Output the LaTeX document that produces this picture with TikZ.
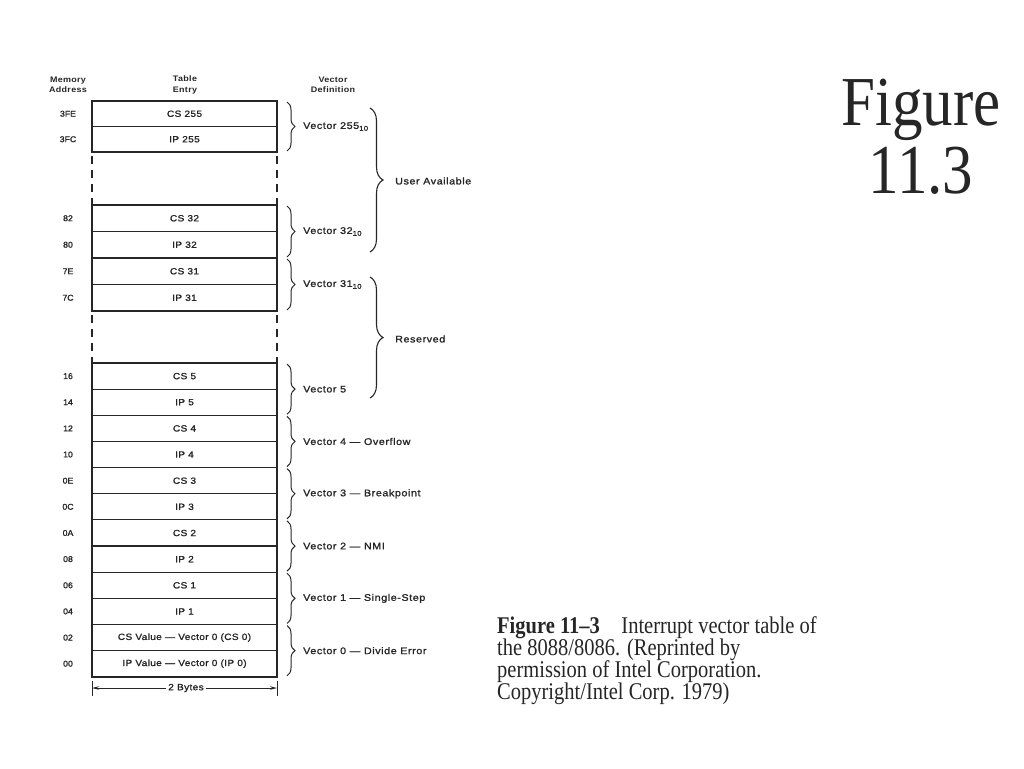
\documentclass[tikz,border=0pt]{standalone}
\usepackage{fontspec}
\setmainfont{Liberation Serif}
\newfontfamily\df[FakeStretch=1.12,LetterSpace=4,FakeBold=1.3]{Liberation Sans}
\newfontfamily\vf[FakeStretch=1.12,LetterSpace=6,FakeBold=1.3]{Liberation Sans}
\newfontfamily\af[FakeStretch=1.04,FakeBold=1.3]{Liberation Sans}
\newfontfamily\hf[FakeStretch=1.12,LetterSpace=4]{Liberation Sans}
\usetikzlibrary{decorations.pathreplacing,arrows.meta}
\definecolor{ink}{HTML}{262626}
\newcommand{\tsub}[1]{\raisebox{-0.35ex}{\fontsize{6.8}{7}\selectfont #1}}
\begin{document}
\begin{tikzpicture}[x=1pt,y=-1pt,
  every node/.style={text=ink},
  cellbox/.style={draw=ink,line width=1.1pt,minimum width=185pt,inner sep=0pt,outer sep=0pt,font=\df\fontsize{9}{10}\selectfont},
  addrtxt/.style={font=\af\fontsize{8.4}{10}\selectfont},
  vlabtxt/.style={anchor=west,font=\vf\fontsize{9.6}{10}\selectfont,inner sep=0pt},
  sbrace/.style={draw=ink,line width=1pt,decorate,decoration={brace,amplitude=8pt}},
  lbrace/.style={draw=ink,line width=1.1pt,decorate,decoration={brace,amplitude=13pt}},
  hdrtxt/.style={align=center,font=\hf\bfseries\fontsize{8}{10.5}\selectfont},
  outerframe/.style={draw=ink,line width=1.6pt},
  gapline/.style={draw=ink,line width=1.4pt,dash pattern=on 8pt off 6pt,dash phase=10pt},
  captxt/.style={anchor=base west,inner sep=0pt,font=\fontsize{20.5}{22}\selectfont},
  ttltxt/.style={anchor=base,inner sep=0pt,font=\fontsize{61}{61}\selectfont}
]
\useasboundingbox[fill=white] (0,0) rectangle (1024,768);

% headers
\node[hdrtxt] (hma) at (68,85) {Memory\\Address};
\node[hdrtxt] (hte) at (185,85) {Table\\Entry};
\node[hdrtxt] (hvd) at (333,85) {Vector\\Definition};

% section A
\node[cellbox,minimum height=25.5pt] (cs255) at (184.5,113.75) {CS 255};
\node[cellbox,minimum height=25.5pt] (ip255) at (184.5,139.25) {IP 255};
% section B
\node[cellbox,minimum height=26.5pt] (cs32) at (184.5,218.25) {CS 32};
\node[cellbox,minimum height=26.5pt] (ip32) at (184.5,244.75) {IP 32};
\node[cellbox,minimum height=26.5pt] (cs31) at (184.5,271.25) {CS 31};
\node[cellbox,minimum height=26.5pt] (ip31) at (184.5,297.75) {IP 31};
% section C
\node[cellbox,minimum height=26.15pt] (cs5) at (184.5,376.1) {CS 5};
\node[cellbox,minimum height=26.15pt] (ip5) at (184.5,402.2) {IP 5};
\node[cellbox,minimum height=26.15pt] (cs4) at (184.5,428.4) {CS 4};
\node[cellbox,minimum height=26.15pt] (ip4) at (184.5,454.5) {IP 4};
\node[cellbox,minimum height=26.15pt] (cs3) at (184.5,480.7) {CS 3};
\node[cellbox,minimum height=26.15pt] (ip3) at (184.5,506.8) {IP 3};
\node[cellbox,minimum height=26.15pt] (cs2) at (184.5,533.0) {CS 2};
\node[cellbox,minimum height=26.15pt] (ip2) at (184.5,559.1) {IP 2};
\node[cellbox,minimum height=26.15pt] (cs1) at (184.5,585.3) {CS 1};
\node[cellbox,minimum height=26.15pt] (ip1) at (184.5,611.4) {IP 1};
\node[cellbox,minimum height=26.15pt] (cs0) at (184.5,637.6) {CS Value — Vector 0 (CS 0)};
\node[cellbox,minimum height=26.15pt] (ip0) at (184.5,663.7) {IP Value — Vector 0 (IP 0)};

% outer frames
\draw[outerframe] (cs255.north west) rectangle (ip255.south east);
\draw[outerframe] (cs32.north west) rectangle (ip31.south east);
\draw[outerframe] (cs5.north west) rectangle (ip0.south east);

% gaps
\draw[gapline] (ip255.south west) -- (cs32.north west);
\draw[gapline] (ip255.south east) -- (cs32.north east);
\draw[gapline] (ip31.south west) -- (cs5.north west);
\draw[gapline] (ip31.south east) -- (cs5.north east);

% addresses
\node[addrtxt] (a3FE) at (68,113.75) {3FE};
\node[addrtxt] (a3FC) at (68,139.25) {3FC};
\node[addrtxt] (a82) at (68,218.25) {82};
\node[addrtxt] (a80) at (68,244.75) {80};
\node[addrtxt] (a7E) at (68,271.25) {7E};
\node[addrtxt] (a7C) at (68,297.75) {7C};
\node[addrtxt] (a16) at (68,376.1) {16};
\node[addrtxt] (a14) at (68,402.2) {14};
\node[addrtxt] (a12) at (68,428.4) {12};
\node[addrtxt] (a10) at (68,454.5) {10};
\node[addrtxt] (a0E) at (68,480.7) {0E};
\node[addrtxt] (a0C) at (68,506.8) {0C};
\node[addrtxt] (a0A) at (68,533.0) {0A};
\node[addrtxt] (a08) at (68,559.1) {08};
\node[addrtxt] (a06) at (68,585.3) {06};
\node[addrtxt] (a04) at (68,611.4) {04};
\node[addrtxt] (a02) at (68,637.6) {02};
\node[addrtxt] (a00) at (68,663.7) {00};

% small braces and vector labels
\foreach \c/\i/\t in {cs255/ip255/{Vector 255\tsub{10}},cs32/ip32/{Vector 32\tsub{10}},cs31/ip31/{Vector 31\tsub{10}},cs5/ip5/{Vector 5},cs4/ip4/{Vector 4 — Overflow},cs3/ip3/{Vector 3 — Breakpoint},cs2/ip2/{Vector 2 — NMI},cs1/ip1/{Vector 1 — Single-Step},cs0/ip0/{Vector 0 — Divide Error}}{
  \draw[sbrace] ([xshift=10pt,yshift=-1pt]\c.north east) -- ([xshift=10pt,yshift=1pt]\i.south east);
  \node[vlabtxt] (v\c) at ([xshift=26pt]\c.south east) {\t};
}

% large braces
\coordinate (ua1) at (370,108);
\coordinate (ua2) at (370,252);
\draw[lbrace] (ua1) -- (ua2);
\node[vlabtxt] (ua) at (395,181) {User Available};
\coordinate (rs1) at (370,277);
\coordinate (rs2) at (370,398);
\draw[lbrace] (rs1) -- (rs2);
\node[vlabtxt] (rs) at (395,339) {Reserved};

% 2 bytes
\node[cellbox,draw=none,minimum width=0pt,inner sep=2pt] (bytes) at (186,688) {2 Bytes};
\draw[ink,line width=1pt] ([yshift=-4pt]ip0.south west) -- ([yshift=-19pt]ip0.south west);
\draw[ink,line width=1pt] ([yshift=-4pt]ip0.south east) -- ([yshift=-19pt]ip0.south east);
\draw[ink,line width=0.9pt,-{Stealth[length=7pt,width=3.5pt]}] (bytes.west) -- (ip0.south west |- bytes.west);
\draw[ink,line width=0.9pt,-{Stealth[length=7pt,width=3.5pt]}] (bytes.east) -- (ip0.south east |- bytes.east);

% caption
\node[captxt] (c1) at (497,633) {\scalebox{1}[1.17]{\textbf{Figure 11–3}\hspace{1.05em}Interrupt vector table of}};
\node[captxt] (c2) at (497,655) {\scalebox{1}[1.17]{the 8088/8086. (Reprinted by}};
\node[captxt] (c3) at (497,677) {\scalebox{1}[1.17]{permission of Intel Corporation.}};
\node[captxt] (c4) at (497,699) {\scalebox{1}[1.17]{Copyright/Intel Corp. 1979)}};

% title
\node[ttltxt] (t1) at (921,125) {\scalebox{1}[1.15]{Figure}};
\node[ttltxt] (t2) at (921,193) {\scalebox{1}[1.15]{11.3}};
\end{tikzpicture}
\end{document}
